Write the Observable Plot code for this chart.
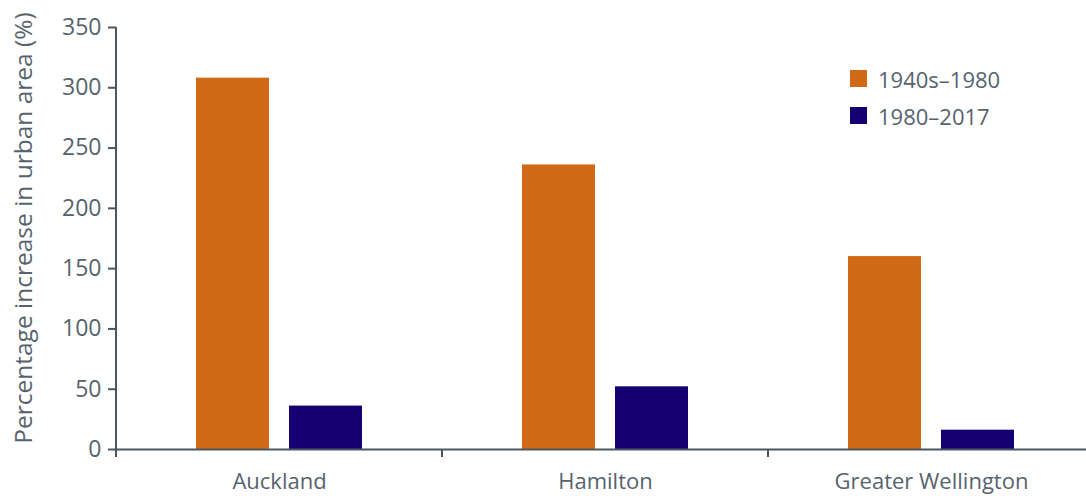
<!DOCTYPE html>
<html><head><meta charset="utf-8">
<script src="https://cdn.jsdelivr.net/npm/d3@7"></script>
<script src="https://cdn.jsdelivr.net/npm/@observablehq/plot@0.6"></script>
<style>
body{margin:0;background:#fff;overflow:hidden;font-family:"Open Sans",sans-serif}
#wrap{position:relative;width:1086px;height:496px;overflow:hidden}
#legend{position:absolute;left:850px;top:60px;font-family:"Open Sans",sans-serif;font-size:22px;color:#56636d}
#legend .row{display:flex;align-items:center;height:37px}
#legend .sw{width:17px;height:17px;margin-right:11px}
</style></head><body><div id="wrap"><div id="chart"></div><div id="legend"></div></div>
<script>
const cities = ["Auckland", "Hamilton", "Greater Wellington"];
const periods = ["1940s–1980", "1980–2017"];
const early = [308, 236, 160];
const late = [36, 52, 16];
const colors = ["#D06A16", "#140070"];
const yTicks = [0, 50, 100, 150, 200, 250, 300, 350];
const yLabel = "Percentage increase in urban area (%)";

const data = cities.flatMap((c, i) => [
  {city: c, period: periods[0], value: early[i]},
  {city: c, period: periods[1], value: late[i]}
]);
const ink = "#56636d";
const line = "#4a5762";

const chart = Plot.plot({
  width: 1086, height: 496,
  marginTop: 27, marginBottom: 47, marginLeft: 116, marginRight: -8,
  style: {fontFamily: "Open Sans", fontSize: "22px", color: ink, background: "#fff", overflow: "visible"},
  fx: {domain: cities, padding: 0, label: null},
  x: {domain: periods, paddingInner: 0.22, paddingOuter: 0.85, axis: null},
  y: {domain: [0, 350]},
  color: {domain: periods, range: colors},
  marks: [
    Plot.barY(data, {fx: "city", x: "period", y: "value", fill: "period"}),
    Plot.ruleY([0], {stroke: line, strokeWidth: 2}),
    Plot.axisY({ticks: yTicks, tickSize: 8, tickPadding: 7, stroke: line, strokeWidth: 2, fill: ink,
      fontSize: 23, label: null}),
    Plot.axisFx({anchor: "bottom", tickSize: 0, tickPadding: 24, label: null, fill: ink, fontSize: 22})
  ]
});
document.getElementById("chart").appendChild(chart);

// y-axis line, category-boundary ticks and axis title from the library's scales
const sy = chart.scale("y"), sfx = chart.scale("fx");
const svg = d3.select(chart);
const y0 = sy.apply(0), yTop = sy.apply(350);
const xLeft = sfx.range[0];
svg.append("line").attr("x1", xLeft).attr("x2", xLeft).attr("y1", yTop).attr("y2", y0 + 8)
  .attr("stroke", line).attr("stroke-width", 2);
cities.forEach(c => {
  const x = sfx.apply(c);
  svg.append("line").attr("x1", x).attr("x2", x).attr("y1", y0).attr("y2", y0 + 8)
    .attr("stroke", line).attr("stroke-width", 2);
});
const cy = (y0 + yTop) / 2 - 10;
svg.append("text")
  .attr("transform", `translate(32,${cy}) rotate(-90)`)
  .attr("text-anchor", "middle")
  .attr("font-family", "Open Sans").attr("font-size", 24.5).attr("fill", ink)
  .text(yLabel);

// legend
const lg = d3.select("#legend");
periods.forEach((p, i) => {
  const r = lg.append("div").attr("class", "row");
  r.append("div").attr("class", "sw").style("background", colors[i]);
  r.append("span").text(p);
});
</script></body></html>
